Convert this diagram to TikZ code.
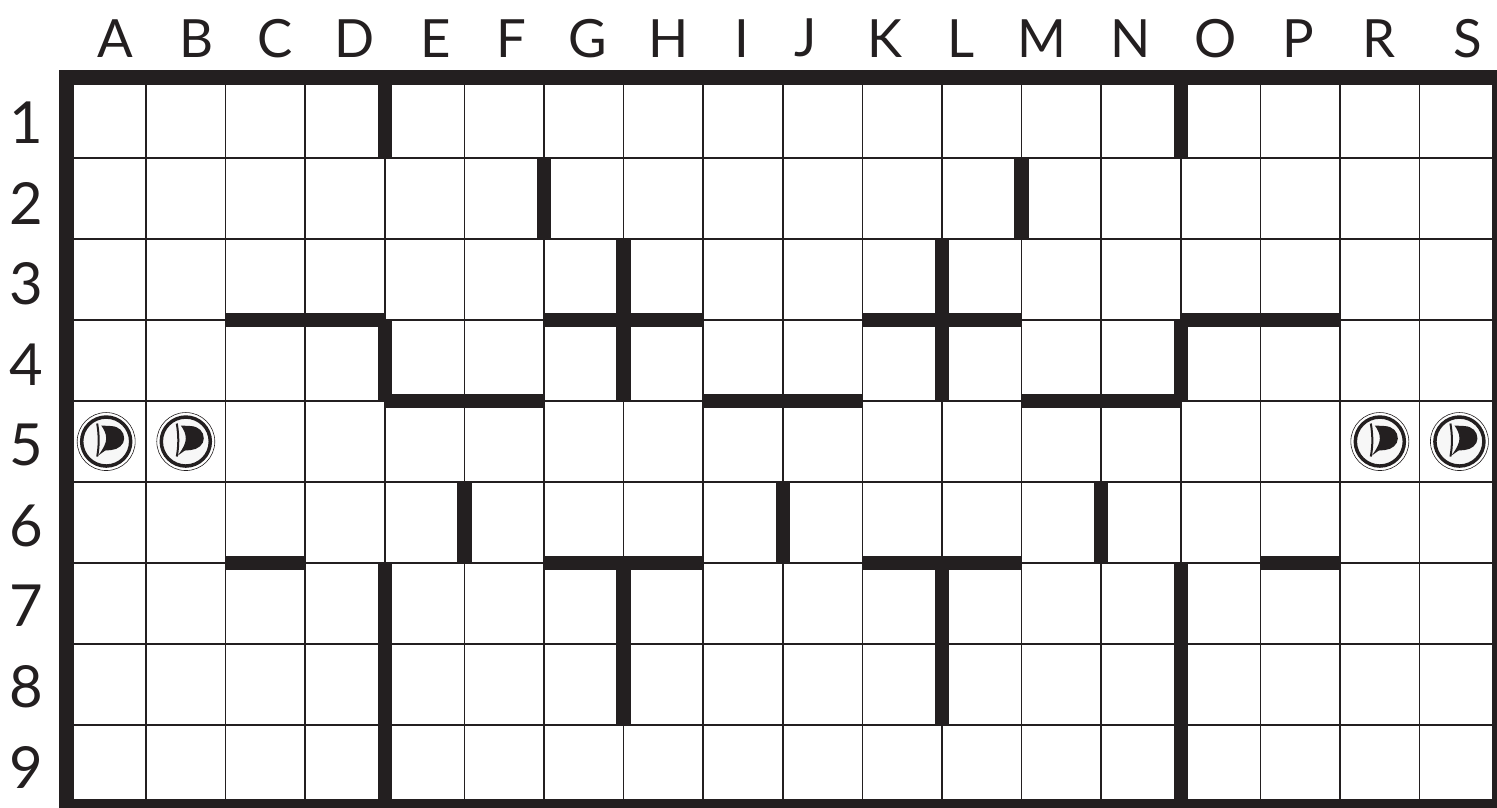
\documentclass[tikz,border=0pt]{standalone}
\usepackage{fontspec}
\setmainfont{Lato}
\usepackage{xcolor}
\usepackage{tikz}
\definecolor{tinta}{RGB}{35,31,32}

\begin{document}
\begin{tikzpicture}[
  x=1.592cm, y=-1.62cm,
  rejilla/.style={draw=tinta, line width=0.03cm},
  marco/.style={draw=tinta, line width=0.3cm, line join=miter},
  muro/.style={draw=tinta, line width=0.29cm},
  etiqueta/.style={font=\fontsize{30}{36}\selectfont, text=tinta, inner sep=0pt},
  numero/.style={font=\fontsize{33}{38}\selectfont, text=tinta, inner sep=0pt},
  pirata/.pic={
    \begin{scope}[x=0.02cm, y=-0.02cm]
      \draw[tinta, line width=0.012cm] (0,0) circle (29);
      \draw[tinta, line width=0.07cm, fill=black!3] (0,0) circle (24.5);
      \fill[tinta] (-5,-16) -- (5,-15.5) .. controls (13,-15) and (18,-10) .. (18,-3)
        .. controls (18,3) and (12,8) .. (5,8.5) -- (-1,9) -- (-8,14)
        .. controls (-2,6) and (0,1) .. (0,-3) .. controls (0,-8) and (-2,-12) .. (-5,-16) -- cycle;
      \draw[tinta, line width=0.04cm] (-9,-18) .. controls (-7,-6) and (-7,4) .. (-9,15);
    \end{scope}
  }
]
\useasboundingbox (-0.834,-0.951) rectangle (17.972,9.012);
\clip (-0.834,-0.951) rectangle (17.972,9.012);

% Rejilla
\foreach \i in {1,...,17}
  \draw[rejilla] (\i,0) -- (\i,9);
\foreach \j in {1,...,8}
  \draw[rejilla] (0,\j) -- (18,\j);

% Marco exterior
\draw[marco] (0,0) rectangle (18,9);

% Muros: filas superiores
\draw[muro] (4,0) -- (4,1);
\draw[muro] (14,0) -- (14,1);
\draw[muro] (6,1) -- (6,2);
\draw[muro] (12,1) -- (12,2);
\draw[muro] (7,2) -- (7,4);
\draw[muro] (11,2) -- (11,4);
\draw[muro] (2,3) -- (4,3);
\draw[muro] (4,3) -- (4,4);
\draw[muro] (4,4) -- (6,4);
\draw[muro] (6,3) -- (8,3);
\draw[muro] (10,3) -- (12,3);
\draw[muro] (14,3) -- (16,3);
\draw[muro] (14,3) -- (14,4);
\draw[muro] (12,4) -- (14,4);
\draw[muro] (8,4) -- (10,4);

% Muros: filas inferiores
\draw[muro] (5,5) -- (5,6);
\draw[muro] (9,5) -- (9,6);
\draw[muro] (13,5) -- (13,6);
\draw[muro] (2,6) -- (3,6);
\draw[muro] (6,6) -- (8,6);
\draw[muro] (10,6) -- (12,6);
\draw[muro] (15,6) -- (16,6);
\draw[muro] (4,6) -- (4,9);
\draw[muro] (14,6) -- (14,9);
\draw[muro] (7,6) -- (7,8);
\draw[muro] (11,6) -- (11,8);

% Fichas
\pic (fichaA) at (0.5,4.5) {pirata};
\pic (fichaB) at (1.5,4.5) {pirata};
\pic (fichaR) at (16.5,4.5) {pirata};
\pic (fichaS) at (17.5,4.5) {pirata};

% Etiquetas de columnas y filas
\foreach \letra/\px in {A/115,B/197,C/275,D/355,E/436,F/511,G/588,H/669,I/742,
                        J/806,K/885,L/961,M/1042,N/1131,O/1216,P/1298,R/1379,S/1468}
  \node[etiqueta] (col\letra) at ({(\px-66.4)/79.6},-0.48) {\letra};
\foreach \fila in {1,...,9}
  \node[numero] (fila\fila) at (-0.505,{(\fila*80.5-34.5)/81}) {\fila};
\end{tikzpicture}
\end{document}
